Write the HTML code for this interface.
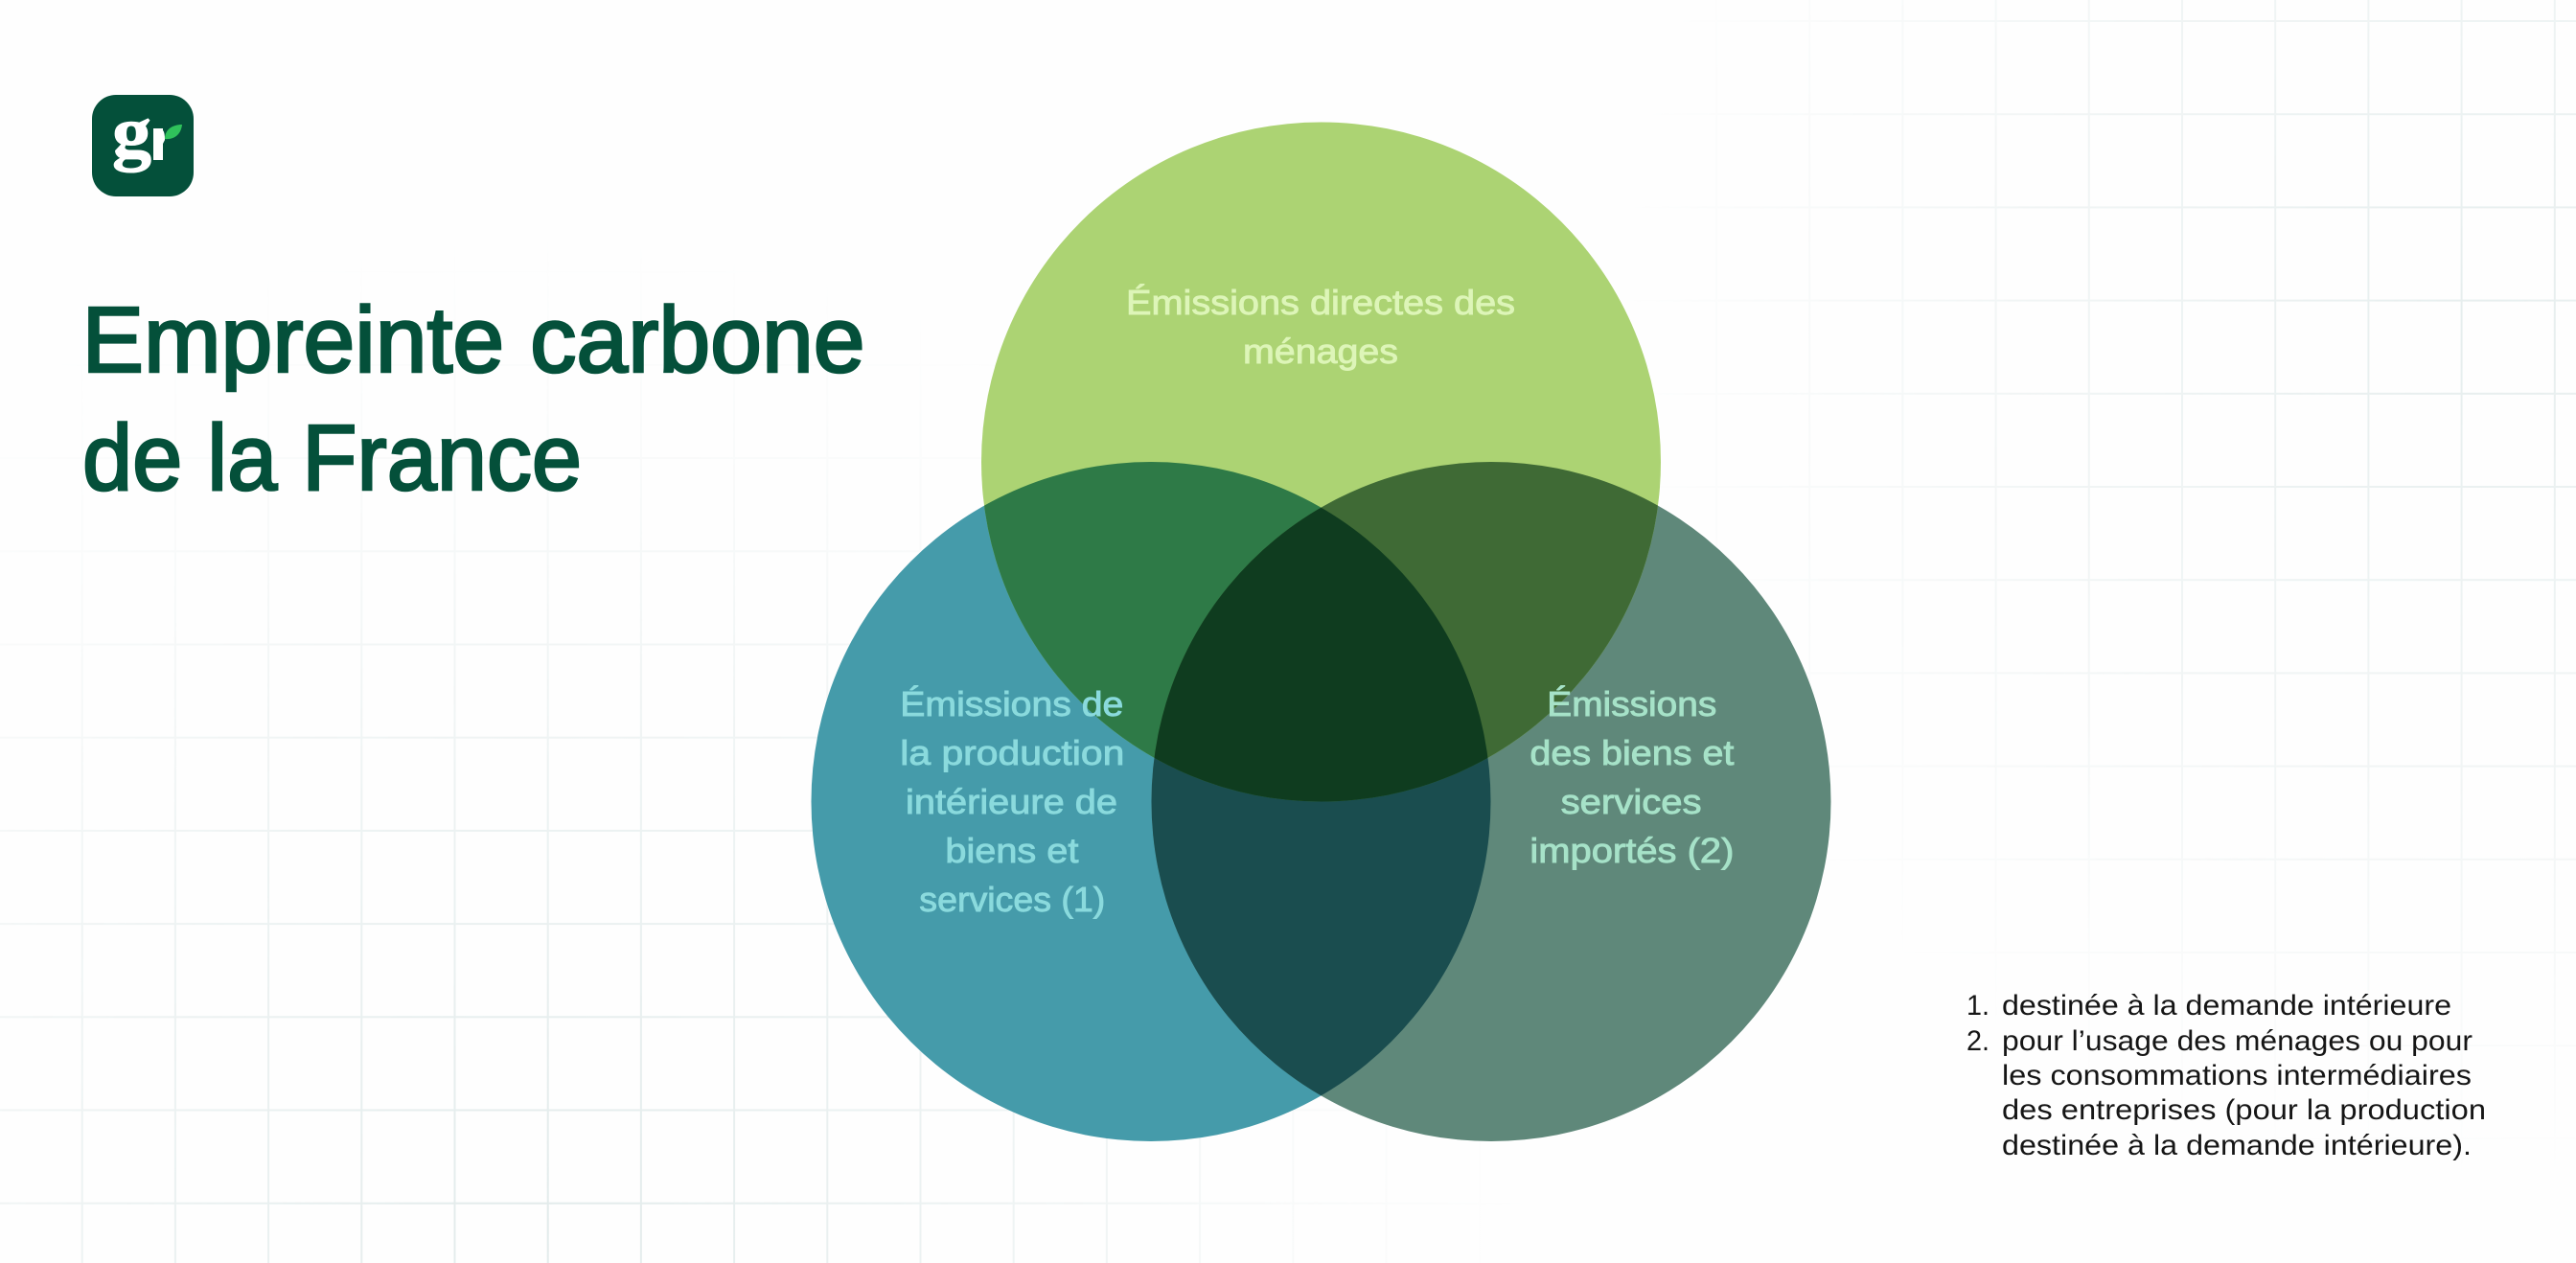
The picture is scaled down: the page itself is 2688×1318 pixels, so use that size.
<!DOCTYPE html>
<html lang="fr"><head><meta charset="utf-8"><title>Empreinte carbone de la France</title>
<style>html,body{margin:0;padding:0;background:#fefefe;width:2688px;height:1318px;overflow:hidden}svg{display:block}
text{font-family:"Liberation Sans",sans-serif}
.t{font-size:97px;fill:#04503a;stroke:#04503a;stroke-width:2.6px}
.c{font-size:36px;stroke-width:.9px}
.n{font-size:30px;fill:#151515}
</style></head><body>
<svg width="2688" height="1318" viewBox="0 0 2688 1318" xmlns="http://www.w3.org/2000/svg">
<defs>
<pattern id="gA" patternUnits="userSpaceOnUse" x="84.7" y="88.3" width="97.2" height="97.2"><rect width="2" height="97.2" fill="#e2ebeb"/><rect width="97.2" height="2" fill="#e2ebeb"/></pattern>
<pattern id="gB" patternUnits="userSpaceOnUse" x="1984.4" y="21" width="97.2" height="97.2"><rect width="2" height="97.2" fill="#e2ebeb"/><rect width="97.2" height="2" fill="#e2ebeb"/></pattern>
<radialGradient id="fA" gradientUnits="userSpaceOnUse" cx="560" cy="1280" r="1050"><stop offset="0" stop-color="#fff"/><stop offset=".45" stop-color="#999"/><stop offset=".75" stop-color="#333"/><stop offset="1" stop-color="#000"/></radialGradient>
<radialGradient id="fB" gradientUnits="userSpaceOnUse" cx="2580" cy="340" r="900"><stop offset="0" stop-color="#ddd"/><stop offset=".5" stop-color="#777"/><stop offset="1" stop-color="#000"/></radialGradient>
<mask id="mA"><rect width="2688" height="1318" fill="url(#fA)"/></mask>
<mask id="mB"><rect width="2688" height="1318" fill="url(#fB)"/></mask>
<clipPath id="cT"><circle cx="1378.5" cy="482" r="354.5"/></clipPath>
<clipPath id="cL"><circle cx="1201" cy="836.5" r="354.5"/></clipPath>
<clipPath id="cR"><circle cx="1556" cy="836.5" r="354.5"/></clipPath>
</defs>
<rect width="2688" height="1318" fill="#fefefe"/>
<rect width="2688" height="1318" fill="url(#gA)" mask="url(#mA)"/>
<rect width="2688" height="1318" fill="url(#gB)" mask="url(#mB)"/>

<circle cx="1201" cy="836.5" r="354.5" fill="#459baa"/>
<circle cx="1556" cy="836.5" r="354.5" fill="#5f887a"/>
<circle cx="1378.5" cy="482" r="354.5" fill="#acd373"/>
<circle cx="1556" cy="836.5" r="354.5" fill="#1a4d4f" clip-path="url(#cL)"/>
<circle cx="1201" cy="836.5" r="354.5" fill="#2e7a47" clip-path="url(#cT)"/>
<circle cx="1556" cy="836.5" r="354.5" fill="#3f6a35" clip-path="url(#cT)"/>
<g clip-path="url(#cT)"><circle cx="1556" cy="836.5" r="354.5" fill="#0f3c1f" clip-path="url(#cL)"/></g>

<rect x="96" y="99" width="106" height="106" rx="25" fill="#04503a"/>
<text x="117" y="163" font-size="76" font-weight="700" fill="#fff" stroke="#fff" stroke-width="1" style="font-family:'Liberation Serif',serif" textLength="41" lengthAdjust="spacingAndGlyphs">g</text>
<path d="M160 134 H170 V167 H160 Z" fill="#fff"/><path d="M170 136 Q172 138 172 146 L170 150 Z" fill="#fff"/>
<path d="M172 145 C172 135 180 130 190 130 C189 140 182 146 172 145 Z" fill="#2fc25b"/>

<text class="t" x="85.5" y="388" textLength="817" lengthAdjust="spacingAndGlyphs">Empreinte carbone</text>
<text class="t" x="86" y="511" textLength="521" lengthAdjust="spacingAndGlyphs">de la France</text>

<g fill="#ddf5b8" stroke="#ddf5b8">
<text class="c" x="1175" y="328" textLength="406" lengthAdjust="spacingAndGlyphs">Émissions directes des</text>
<text class="c" x="1297" y="379" textLength="162" lengthAdjust="spacingAndGlyphs">ménages</text>
</g>
<g fill="#8adadd" stroke="#8adadd">
<text class="c" x="939.3" y="747" textLength="233" lengthAdjust="spacingAndGlyphs">Émissions de</text>
<text class="c" x="939.3" y="798" textLength="234" lengthAdjust="spacingAndGlyphs">la production</text>
<text class="c" x="945" y="849" textLength="221" lengthAdjust="spacingAndGlyphs">intérieure de</text>
<text class="c" x="986.4" y="900" textLength="139" lengthAdjust="spacingAndGlyphs">biens et</text>
<text class="c" x="959.3" y="951" textLength="194" lengthAdjust="spacingAndGlyphs">services (1)</text>
</g>
<g fill="#a6e2c8" stroke="#a6e2c8">
<text class="c" x="1614.3" y="747" textLength="177" lengthAdjust="spacingAndGlyphs">Émissions</text>
<text class="c" x="1596.4" y="798" textLength="213" lengthAdjust="spacingAndGlyphs">des biens et</text>
<text class="c" x="1628.6" y="849" textLength="147" lengthAdjust="spacingAndGlyphs">services</text>
<text class="c" x="1596.4" y="900" textLength="213" lengthAdjust="spacingAndGlyphs">importés (2)</text>
</g>

<text class="n" x="2052" y="1059" textLength="24" lengthAdjust="spacingAndGlyphs">1.</text>
<text class="n" x="2089" y="1059" textLength="469" lengthAdjust="spacingAndGlyphs">destinée à la demande intérieure</text>
<text class="n" x="2052" y="1096" textLength="24" lengthAdjust="spacingAndGlyphs">2.</text>
<text class="n" x="2089" y="1096" textLength="491" lengthAdjust="spacingAndGlyphs">pour l’usage des ménages ou pour</text>
<text class="n" x="2089" y="1132" textLength="490" lengthAdjust="spacingAndGlyphs">les consommations intermédiaires</text>
<text class="n" x="2089" y="1168" textLength="505" lengthAdjust="spacingAndGlyphs">des entreprises (pour la production</text>
<text class="n" x="2089" y="1205" textLength="490" lengthAdjust="spacingAndGlyphs">destinée à la demande intérieure).</text>
</svg>
</body></html>
